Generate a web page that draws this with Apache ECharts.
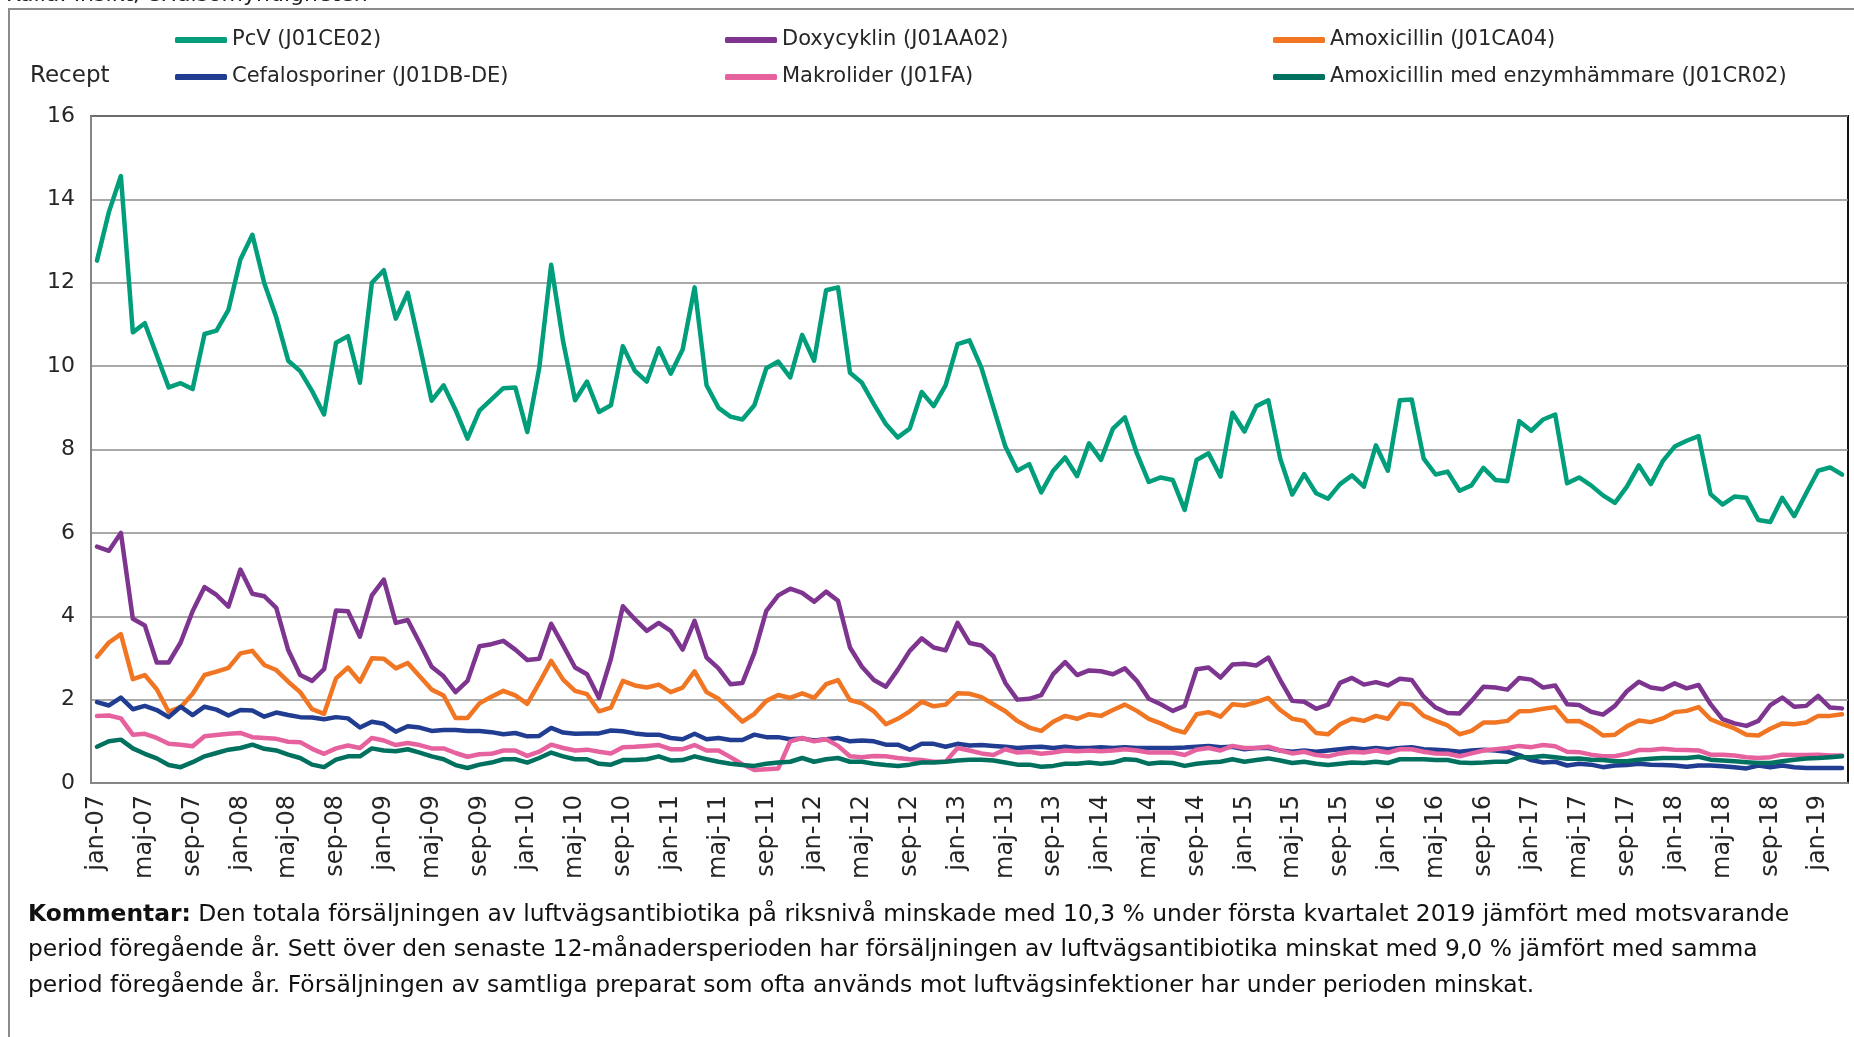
<!DOCTYPE html>
<html>
<head>
<meta charset="utf-8">
<script src="https://cdn.jsdelivr.net/npm/echarts@6/dist/echarts.min.js"></script>
<style>
html,body{margin:0;padding:0;background:#fff;}
#chart{width:1854px;height:1037px;}
</style>
</head>
<body>
<div id="chart"></div>
<script>
// ---- Data ----
const monthNames = ['jan','feb','mar','apr','maj','jun','jul','aug','sep','okt','nov','dec'];
const years = ['07','08','09','10','11','12','13','14','15','16','17','18','19'];
const lastYearMonths = 3; // jan-19 .. mar-19
const categories = [];
years.forEach((y, yi) => {
  const n = yi === years.length - 1 ? lastYearMonths : 12;
  for (let m = 0; m < n; m++) categories.push(monthNames[m] + '-' + y);
});

const seriesNames = ['PcV (J01CE02)','Doxycyklin (J01AA02)','Amoxicillin (J01CA04)','Cefalosporiner (J01DB-DE)','Makrolider (J01FA)','Amoxicillin med enzymhämmare (J01CR02)'];

const pcv = [12.53,13.70,14.56,10.81,11.03,10.26,9.49,9.59,9.45,10.77,10.85,11.35,
12.56,13.15,11.99,11.17,10.13,9.88,9.40,8.84,10.56,10.72,9.60,12.0,
12.3,11.14,11.76,10.48,9.17,9.54,8.95,8.26,8.93,9.20,9.47,9.49,
8.42,9.95,12.43,10.59,9.18,9.63,8.90,9.06,10.48,9.89,9.63,10.43,
9.82,10.40,11.89,9.54,9.0,8.79,8.72,9.06,9.95,10.11,9.73,10.75,
10.13,11.82,11.89,9.84,9.60,9.09,8.61,8.29,8.50,9.38,9.04,9.54,
10.53,10.62,9.96,9.01,8.07,7.49,7.65,6.97,7.49,7.81,7.36,8.15,
7.75,8.50,8.77,7.91,7.22,7.33,7.27,6.55,7.75,7.91,7.35,8.88,
8.43,9.04,9.18,7.78,6.92,7.41,6.95,6.82,7.17,7.38,7.11,8.10,
7.49,9.18,9.20,7.78,7.40,7.47,7.01,7.14,7.56,7.27,7.24,8.68,
8.45,8.72,8.84,7.19,7.33,7.14,6.90,6.72,7.11,7.62,7.17,7.72,
8.07,8.21,8.32,6.93,6.68,6.87,6.84,6.31,6.26,6.84,6.40,6.95,
7.49,7.57,7.40];

const doxy = [5.67,5.57,6.0,3.94,3.78,2.89,2.89,3.37,4.12,4.70,4.51,4.23,
5.12,4.54,4.48,4.20,3.19,2.59,2.45,2.73,4.14,4.12,3.51,4.50,
4.88,3.84,3.91,3.36,2.79,2.56,2.18,2.45,3.28,3.33,3.41,3.20,
2.95,2.98,3.82,3.30,2.77,2.61,2.04,2.98,4.24,3.93,3.65,3.84,
3.65,3.20,3.89,3.01,2.75,2.37,2.40,3.12,4.13,4.50,4.66,4.56,
4.35,4.59,4.37,3.25,2.79,2.47,2.31,2.72,3.17,3.47,3.25,3.18,
3.84,3.36,3.30,3.04,2.40,2.0,2.02,2.11,2.61,2.90,2.59,2.70,
2.68,2.61,2.75,2.45,2.02,1.89,1.73,1.85,2.73,2.77,2.53,2.84,
2.86,2.82,3.01,2.47,1.97,1.95,1.78,1.88,2.40,2.52,2.36,2.42,
2.34,2.50,2.47,2.07,1.81,1.68,1.67,1.97,2.31,2.29,2.24,2.52,
2.48,2.29,2.34,1.89,1.87,1.71,1.64,1.85,2.20,2.43,2.29,2.25,
2.39,2.27,2.35,1.89,1.53,1.43,1.37,1.49,1.87,2.05,1.83,1.85,
2.09,1.81,1.79];

const amox = [3.03,3.37,3.57,2.49,2.59,2.25,1.71,1.82,2.14,2.59,2.67,2.76,
3.11,3.17,2.83,2.71,2.43,2.18,1.77,1.66,2.51,2.77,2.43,2.99,
2.98,2.75,2.88,2.56,2.24,2.10,1.56,1.56,1.91,2.07,2.21,2.10,
1.90,2.40,2.93,2.48,2.21,2.13,1.72,1.81,2.45,2.34,2.29,2.36,
2.18,2.29,2.68,2.18,2.02,1.75,1.47,1.66,1.97,2.11,2.04,2.15,
2.04,2.37,2.47,1.99,1.91,1.72,1.41,1.54,1.72,1.95,1.84,1.88,
2.15,2.14,2.06,1.89,1.72,1.49,1.33,1.25,1.47,1.61,1.54,1.65,
1.61,1.75,1.88,1.73,1.54,1.43,1.29,1.21,1.65,1.70,1.59,1.89,
1.86,1.94,2.04,1.75,1.54,1.49,1.20,1.17,1.41,1.54,1.49,1.61,
1.54,1.91,1.88,1.61,1.49,1.38,1.17,1.25,1.45,1.45,1.49,1.72,
1.73,1.78,1.82,1.48,1.49,1.34,1.14,1.16,1.36,1.50,1.46,1.55,
1.70,1.73,1.82,1.53,1.41,1.31,1.16,1.14,1.30,1.43,1.41,1.45,
1.61,1.61,1.65];

const cefa = [1.94,1.86,2.05,1.77,1.85,1.75,1.58,1.83,1.63,1.83,1.76,1.62,
1.75,1.74,1.59,1.69,1.63,1.58,1.57,1.53,1.58,1.55,1.33,1.47,
1.42,1.23,1.36,1.33,1.25,1.27,1.27,1.25,1.25,1.22,1.17,1.20,
1.12,1.13,1.32,1.21,1.18,1.19,1.19,1.26,1.24,1.19,1.16,1.16,
1.08,1.05,1.18,1.05,1.08,1.03,1.03,1.16,1.10,1.10,1.05,1.07,
1.02,1.05,1.08,1.0,1.02,1.0,0.92,0.92,0.80,0.94,0.94,0.87,
0.94,0.90,0.91,0.89,0.87,0.84,0.86,0.87,0.84,0.87,0.84,0.84,
0.86,0.84,0.86,0.84,0.84,0.84,0.84,0.85,0.87,0.89,0.86,0.87,
0.81,0.84,0.84,0.78,0.75,0.78,0.75,0.78,0.81,0.84,0.81,0.84,
0.81,0.84,0.86,0.81,0.80,0.78,0.75,0.78,0.80,0.78,0.75,0.67,
0.55,0.49,0.51,0.42,0.46,0.44,0.38,0.42,0.43,0.46,0.44,0.43,
0.42,0.39,0.42,0.42,0.40,0.38,0.35,0.42,0.38,0.42,0.38,0.36,
0.36,0.36,0.36];

const makro = [1.61,1.62,1.55,1.16,1.18,1.08,0.94,0.92,0.88,1.12,1.15,1.18,
1.20,1.10,1.08,1.06,0.99,0.98,0.82,0.70,0.83,0.90,0.84,1.08,
1.02,0.91,0.96,0.91,0.83,0.83,0.72,0.63,0.69,0.70,0.78,0.78,
0.65,0.75,0.92,0.84,0.78,0.80,0.75,0.71,0.86,0.87,0.89,0.91,
0.81,0.81,0.91,0.78,0.78,0.62,0.45,0.31,0.33,0.35,1.0,1.08,
1.0,1.05,0.89,0.64,0.62,0.65,0.64,0.60,0.57,0.55,0.51,0.51,
0.84,0.78,0.71,0.67,0.81,0.73,0.75,0.70,0.73,0.78,0.76,0.78,
0.76,0.78,0.81,0.78,0.73,0.73,0.73,0.67,0.80,0.84,0.78,0.89,
0.84,0.84,0.87,0.78,0.71,0.75,0.67,0.64,0.71,0.75,0.73,0.78,
0.73,0.81,0.81,0.75,0.71,0.70,0.64,0.71,0.78,0.81,0.84,0.89,
0.86,0.91,0.88,0.75,0.74,0.68,0.64,0.64,0.70,0.79,0.79,0.82,
0.80,0.79,0.78,0.68,0.68,0.66,0.62,0.60,0.62,0.68,0.67,0.67,
0.68,0.66,0.66];

const enz = [0.87,1.00,1.04,0.83,0.70,0.59,0.43,0.38,0.50,0.64,0.72,0.80,
0.84,0.92,0.82,0.78,0.68,0.60,0.44,0.38,0.56,0.64,0.64,0.83,
0.78,0.76,0.81,0.73,0.64,0.57,0.43,0.36,0.44,0.49,0.57,0.57,
0.49,0.60,0.73,0.64,0.57,0.57,0.46,0.44,0.55,0.55,0.57,0.64,
0.54,0.55,0.64,0.57,0.51,0.46,0.43,0.41,0.46,0.49,0.51,0.60,
0.51,0.57,0.60,0.51,0.51,0.46,0.43,0.41,0.44,0.49,0.49,0.51,
0.54,0.56,0.56,0.54,0.49,0.44,0.44,0.39,0.41,0.46,0.46,0.49,
0.46,0.49,0.57,0.55,0.46,0.49,0.48,0.41,0.46,0.49,0.51,0.57,
0.51,0.55,0.59,0.54,0.48,0.51,0.46,0.43,0.46,0.49,0.48,0.51,
0.48,0.57,0.57,0.57,0.55,0.55,0.49,0.48,0.49,0.51,0.51,0.62,
0.62,0.65,0.62,0.58,0.59,0.56,0.55,0.52,0.52,0.56,0.58,0.60,
0.60,0.60,0.63,0.56,0.54,0.52,0.50,0.48,0.48,0.52,0.56,0.59,
0.60,0.62,0.64];

const yTicks = {min: 0, max: 16, interval: 2};
const colors = ['#009E7B','#7D3590','#F07624','#203D92','#E6629F','#00705F'];

// ---- Texts ----
const sourceText = 'Källa: Insikt, eHälsomyndigheten';
const yUnit = 'Recept';
const commentBold = 'Kommentar:';
const commentLines = [
  ' Den totala försäljningen av luftvägsantibiotika på riksnivå minskade med 10,3 % under första kvartalet 2019 jämfört med motsvarande',
  'period föregående år. Sett över den senaste 12-månadersperioden har försäljningen av luftvägsantibiotika minskat med 9,0 % jämfört med samma',
  'period föregående år. Försäljningen av samtliga preparat som ofta används mot luftvägsinfektioner har under perioden minskat.'
];

const FONT = '"DejaVu Sans", Verdana, sans-serif';
const allData = [pcv, doxy, amox, cefa, makro, enz];

const chart = echarts.init(document.getElementById('chart'), null, {renderer: 'canvas'});

const legendBase = {
  orient: 'vertical', itemWidth: 52, itemHeight: 6, itemGap: 11, icon: 'roundRect',
  textStyle: {fontSize: 21, fontFamily: FONT, color: '#262626', lineHeight: 26},
  selectedMode: false
};

const CFONT = '23.4px ' + FONT;

const option = {
  animation: false,
  backgroundColor: '#fff',
  color: colors,
  legend: [
    Object.assign({}, legendBase, {left: 170, top: 22, data: [seriesNames[0], seriesNames[3]]}),
    Object.assign({}, legendBase, {left: 720, top: 22, data: [seriesNames[1], seriesNames[4]]}),
    Object.assign({}, legendBase, {left: 1268, top: 22, data: [seriesNames[2], seriesNames[5]]})
  ],
  grid: {left: 91, right: 6, top: 116, bottom: 254, show: true, borderColor: '#111', borderWidth: 2, containLabel: false},
  xAxis: {
    type: 'category', data: categories, boundaryGap: true,
    axisLine: {show: true, lineStyle: {color: '#868686', width: 2}},
    axisTick: {show: false},
    axisLabel: {interval: 3, rotate: 90, fontSize: 24, fontFamily: FONT, color: '#262626', margin: 12},
    splitLine: {show: false}
  },
  yAxis: {
    type: 'value', min: yTicks.min, max: yTicks.max, interval: yTicks.interval,
    axisLine: {show: true, lineStyle: {color: '#868686', width: 2}},
    axisTick: {show: false},
    axisLabel: {fontSize: 22, fontFamily: FONT, color: '#262626', margin: 16},
    splitLine: {show: true, lineStyle: {color: '#8c8c8c', width: 1.5}}
  },
  series: allData.map((d, i) => ({
    name: seriesNames[i], type: 'line', data: d, showSymbol: false, symbol: 'none',
    lineStyle: {width: 4.5, color: colors[i], join: 'round', cap: 'round'},
    itemStyle: {color: colors[i]}, z: 2 + i
  })),
  graphic: [
    {type: 'polyline', shape: {points: [[9, 1037], [9, 9], [1854, 9]]}, style: {stroke: '#8c8c8c', lineWidth: 2, fill: null}, silent: true},
    {type: 'text', left: 6, top: -16, style: {text: sourceText, font: '22px ' + FONT, fill: '#222'}},
    {type: 'text', left: 30, top: 65, style: {text: yUnit, font: '23px ' + FONT, fill: '#262626'}},
    {type: 'text', left: 28, top: 903, style: {text: '{b|' + commentBold + '}{n|' + commentLines[0] + '}', rich: {b: {font: 'bold ' + CFONT, fill: '#111'}, n: {font: CFONT, fill: '#111'}}}},
    {type: 'text', left: 28, top: 938, style: {text: commentLines[1], font: CFONT, fill: '#111'}},
    {type: 'text', left: 28, top: 974, style: {text: commentLines[2], font: CFONT, fill: '#111'}}
  ]
};
chart.setOption(option);
</script>
</body>
</html>
